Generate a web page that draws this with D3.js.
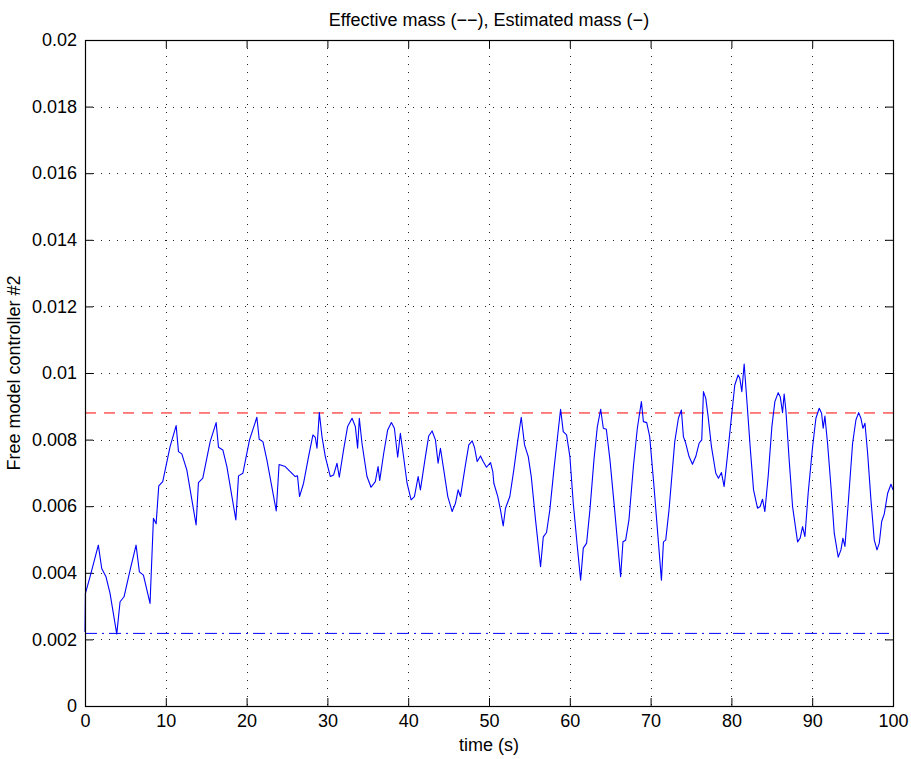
<!DOCTYPE html>
<html>
<head>
<meta charset="utf-8">
<script src="https://cdn.jsdelivr.net/npm/d3@7/dist/d3.min.js"></script>
<style>
  html, body { margin: 0; padding: 0; background: #fff; }
  svg { display: block; }
  text { font-family: "Liberation Sans", Arial, Helvetica, sans-serif; fill: #000; }
</style>
</head>
<body>
<svg id="chart" width="911" height="759"></svg>
<script>
// Time axis samples (s) and the estimated mass of the free-model controller
const time = [
  0, 0.05, 0.62, 1.65, 2.07, 2.6, 3.1, 3.93, 4.34, 4.83, 5.58, 6.32, 6.73, 7.23, 8.05, 8.47, 8.8, 9.13, 9.62,
  10.53, 11.28, 11.57, 11.98, 12.6, 13.75, 14.04, 14.58, 15.49, 16.23, 16.52, 17.06, 17.56, 18.67, 19.0, 19.54,
  20.36, 21.27, 21.56, 22.02, 22.51, 23.67, 24.02, 24.78, 25.4, 26.02, 26.3, 26.55, 27.05, 27.67, 28.21, 28.5, 28.71,
  29.0, 29.33, 29.74, 30.36, 30.77, 31.19, 31.47, 32.0, 32.5, 33.05, 33.46, 33.74, 33.95, 34.28, 34.9, 35.4, 35.93,
  36.27, 36.47, 36.97, 37.46, 37.92, 38.29, 38.7, 39.03, 39.37, 39.86, 40.36, 40.77, 41.23, 41.51, 42.13, 42.54,
  42.96, 43.37, 43.7, 43.99, 44.4, 44.9, 45.44, 45.85, 46.18, 46.47, 47.09, 47.5, 47.92, 48.2, 48.54, 48.95, 49.28,
  49.69, 50.19, 50.47, 50.6, 51.09, 51.42, 51.76, 52.04, 52.58, 53.07, 53.57, 53.99, 54.4, 54.86, 55.23, 55.76,
  56.38, 56.72, 57.12, 57.53, 58.03, 58.53, 58.86, 59.19, 59.6, 60.01, 60.43, 60.93, 61.34, 61.67, 62.08, 62.49,
  62.99, 63.41, 63.82, 64.15, 64.52, 64.97, 65.55, 66.29, 66.58, 66.91, 67.32, 67.87, 68.36, 68.86, 69.11, 69.52,
  69.89, 70.42, 71.34, 71.59, 71.87, 72.28, 72.99, 73.44, 73.81, 74.06, 74.35, 74.76, 75.18, 75.59, 76.0, 76.33,
  76.54, 76.83, 77.12, 77.53, 78.07, 78.4, 78.77, 79.1, 79.5, 80.01, 80.42, 80.83, 81.04, 81.29, 81.58, 81.91,
  82.32, 82.74, 83.23, 83.56, 83.85, 84.14, 84.55, 85.01, 85.38, 85.79, 86.04, 86.33, 86.53, 86.74, 87.15, 87.57,
  88.19, 88.51, 88.81, 89.1, 89.5, 90.05, 90.46, 90.87, 91.16, 91.36, 91.57, 91.9, 92.32, 92.73, 93.22, 93.56,
  93.8, 94.05, 94.46, 95.0, 95.41, 95.75, 96.03, 96.28, 96.53, 96.86, 97.27, 97.68, 98.02, 98.3, 98.6, 98.92,
  99.34, 99.75, 100
];
const estimatedMass = [
  0.00222, 0.00338, 0.00388, 0.00483, 0.00413, 0.00388, 0.00338, 0.00216, 0.00313, 0.00328, 0.00408, 0.00483, 0.00403, 0.00393, 0.00308, 0.00564, 0.00547, 0.00661, 0.00674,
  0.00779, 0.00842, 0.00764, 0.00757, 0.00709, 0.00544, 0.00671, 0.00684, 0.00794, 0.00851, 0.00777, 0.00769, 0.00719, 0.00559, 0.00691, 0.00699,
  0.00799, 0.00867, 0.00801, 0.00794, 0.00739, 0.00586, 0.00725, 0.00719, 0.00704, 0.00689, 0.00691, 0.00629, 0.00669, 0.00749, 0.00814, 0.00807, 0.00774,
  0.00881, 0.00809, 0.00749, 0.00689, 0.00694, 0.00729, 0.00687, 0.00769, 0.00839, 0.00864, 0.00839, 0.00774, 0.00864, 0.00789, 0.00689, 0.00657, 0.00674,
  0.00719, 0.00677, 0.00759, 0.00829, 0.00851, 0.00834, 0.00747, 0.00819, 0.00759, 0.00669, 0.00619, 0.00629, 0.00689, 0.00649, 0.00749, 0.00811,
  0.00826, 0.00799, 0.00729, 0.00774, 0.00709, 0.00629, 0.00584, 0.00609, 0.00649, 0.00629, 0.00725, 0.00784, 0.00796, 0.00777, 0.00734, 0.00751, 0.00734,
  0.00717, 0.00731, 0.00704, 0.00669, 0.00629, 0.00589, 0.00541, 0.00594, 0.00629, 0.00709, 0.00799, 0.00867, 0.00784, 0.00749, 0.00689, 0.00559,
  0.00418, 0.00508, 0.00521, 0.00589, 0.00709, 0.00819, 0.00891, 0.00824, 0.00814, 0.00749, 0.00609, 0.00479, 0.00378, 0.00474, 0.00489, 0.00589,
  0.00739, 0.00839, 0.00891, 0.00834, 0.00831, 0.00739, 0.00589, 0.00388, 0.00493, 0.00498, 0.00559, 0.00719, 0.00834, 0.00914, 0.00854, 0.00851,
  0.00809, 0.00659, 0.00378, 0.00493, 0.00498, 0.00589, 0.00794, 0.00864, 0.00889, 0.00809, 0.00789, 0.00749, 0.00726, 0.00749, 0.00789, 0.00799,
  0.00944, 0.00924, 0.00869, 0.00779, 0.00699, 0.00684, 0.00701, 0.00659, 0.00749, 0.00869, 0.00964, 0.00994, 0.00984, 0.00944, 0.01027, 0.00919,
  0.00779, 0.00649, 0.00594, 0.00599, 0.00621, 0.00584, 0.00689, 0.00839, 0.00914, 0.00941, 0.00929, 0.00881, 0.00937, 0.00889, 0.00739, 0.00599,
  0.00493, 0.00504, 0.00539, 0.00509, 0.00639, 0.00779, 0.00864, 0.00894, 0.00879, 0.00834, 0.00871, 0.00789, 0.00659, 0.00519, 0.00447, 0.00469,
  0.00504, 0.00479, 0.00609, 0.00789, 0.00859, 0.00881, 0.00864, 0.00834, 0.00849, 0.00759, 0.00619, 0.00499, 0.00469, 0.00489, 0.00554, 0.00577,
  0.00639, 0.00666, 0.00649
];

// Reference levels: effective mass (dashed) and lower bound (dash-dot)
const effectiveMass = 0.0088;
const lowerMass = 0.00218;

const xTicks = [0, 10, 20, 30, 40, 50, 60, 70, 80, 90, 100];
const yTicks = [0, 0.002, 0.004, 0.006, 0.008, 0.01, 0.012, 0.014, 0.016, 0.018, 0.02];

const titleText = "Effective mass (\u2212\u2212), Estimated mass (\u2212)";
const xLabel = "time (s)";
const yLabel = "Free model controller #2";

// Layout
const margin = { left: 85, right: 18, top: 40, bottom: 53 };
const W = 911, H = 759;
const plotW = W - margin.left - margin.right;
const plotH = H - margin.top - margin.bottom;

const svg = d3.select("#chart");
const g = svg.append("g").attr("transform", `translate(${margin.left},${margin.top})`);

const x = d3.scaleLinear().domain([0, 100]).range([0, plotW]);
const y = d3.scaleLinear().domain([0, 0.02]).range([plotH, 0]);

const fmtY = d => d === 0 ? "0" : String(+d.toFixed(3));
const fontSize = 18;

// Dotted grid
const grid = g.append("g");
grid.selectAll("line.gx").data(xTicks.slice(1, -1)).join("line")
  .attr("x1", d => Math.round(x(d)) + 0.5).attr("x2", d => Math.round(x(d)) + 0.5)
  .attr("y1", 0).attr("y2", plotH)
  .attr("stroke", "#222").attr("stroke-width", 1).attr("stroke-dasharray", "1,7");
grid.selectAll("line.gy").data(yTicks.slice(1, -1)).join("line")
  .attr("y1", d => Math.round(y(d)) + 0.5).attr("y2", d => Math.round(y(d)) + 0.5)
  .attr("x1", 0).attr("x2", plotW)
  .attr("stroke", "#222").attr("stroke-width", 1).attr("stroke-dasharray", "1,7");

// Axes with inward ticks on all four sides
const tickLen = 8;
const axB = d3.axisBottom(x).tickValues(xTicks).tickSizeInner(-tickLen).tickSizeOuter(0).tickPadding(8).tickFormat(d3.format("d"));
const axT = d3.axisTop(x).tickValues(xTicks).tickSizeInner(-tickLen).tickSizeOuter(0).tickFormat("");
const axL = d3.axisLeft(y).tickValues(yTicks).tickSizeInner(-tickLen).tickSizeOuter(0).tickPadding(8).tickFormat(fmtY);
const axR = d3.axisRight(y).tickValues(yTicks).tickSizeInner(-tickLen).tickSizeOuter(0).tickFormat("");

function styleAxis(sel) {
  sel.select(".domain").remove();
  sel.selectAll("line").attr("stroke", "#000").attr("stroke-width", 1);
  sel.selectAll("text").attr("font-size", fontSize).attr("font-family", "Liberation Sans, Arial, sans-serif").attr("fill", "#000");
}
g.append("g").attr("transform", `translate(0,${plotH})`).call(axB).call(styleAxis);
g.append("g").call(axT).call(styleAxis);
g.append("g").call(axL).call(styleAxis);
g.append("g").attr("transform", `translate(${plotW},0)`).call(axR).call(styleAxis);

// Reference lines
g.append("line")
  .attr("x1", x(0)).attr("x2", x(100))
  .attr("y1", y(effectiveMass)).attr("y2", y(effectiveMass))
  .attr("stroke", "#ff0000").attr("stroke-width", 1).attr("stroke-dasharray", "11,8");
g.append("line")
  .attr("x1", x(0)).attr("x2", x(100))
  .attr("y1", y(lowerMass)).attr("y2", y(lowerMass))
  .attr("stroke", "#0000ff").attr("stroke-width", 1).attr("stroke-dasharray", "12,5,2,5");

// Estimated mass trace
const series = time.map((t, i) => [t, estimatedMass[i]]);
g.append("path")
  .datum(series)
  .attr("fill", "none")
  .attr("stroke", "#0000ff")
  .attr("stroke-width", 1.1)
  .attr("stroke-linejoin", "round")
  .attr("d", d3.line().x(d => x(d[0])).y(d => y(d[1])).curve(d3.curveLinear));

// Frame
g.append("rect")
  .attr("x", 0.5).attr("y", 0.5).attr("width", plotW).attr("height", plotH)
  .attr("fill", "none").attr("stroke", "#000").attr("stroke-width", 1.2);

// Title and axis labels
svg.append("text")
  .attr("x", margin.left + plotW / 2).attr("y", 26)
  .attr("text-anchor", "middle").attr("font-size", fontSize)
  .text(titleText);
svg.append("text")
  .attr("x", margin.left + plotW / 2).attr("y", 751)
  .attr("text-anchor", "middle").attr("font-size", fontSize)
  .text(xLabel);
svg.append("text")
  .attr("transform", `translate(20,${margin.top + plotH / 2}) rotate(-90)`)
  .attr("text-anchor", "middle").attr("font-size", fontSize)
  .text(yLabel);
</script>
</body>
</html>
